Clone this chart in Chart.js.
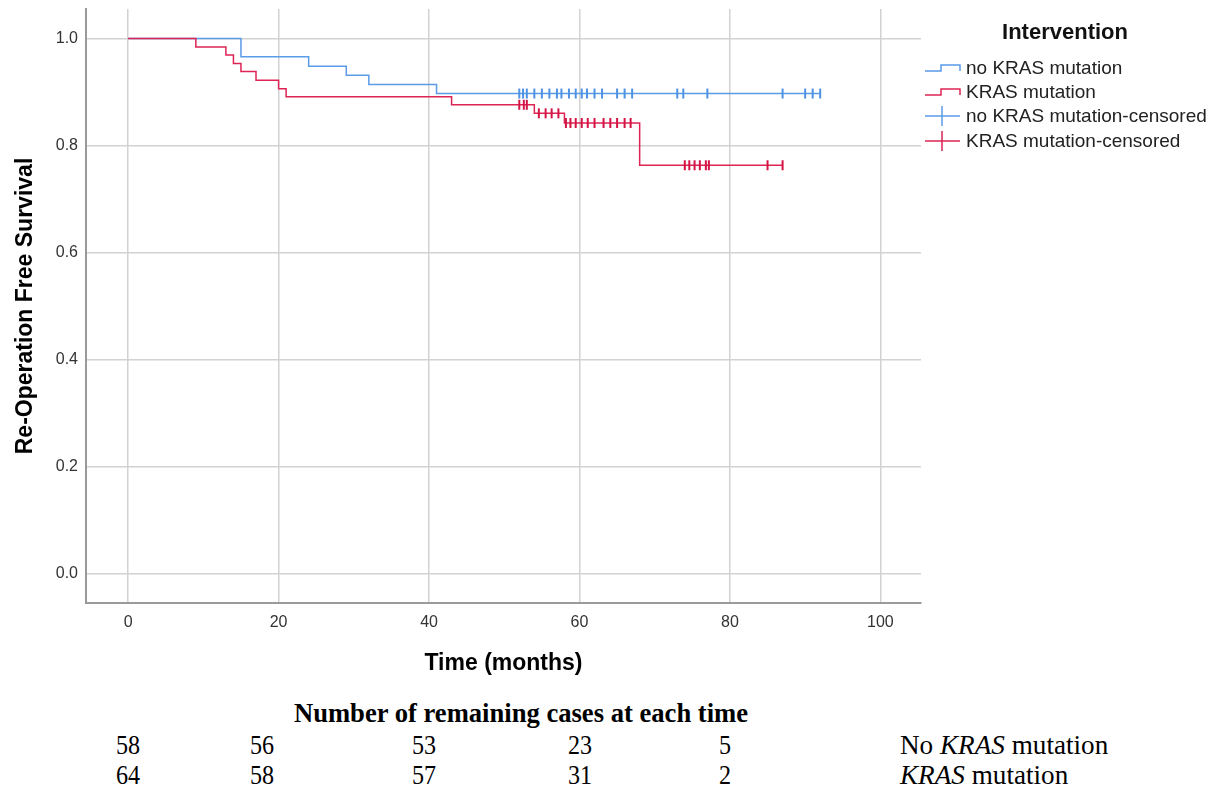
<!DOCTYPE html>
<html>
<head>
<meta charset="utf-8">
<script src="https://cdn.jsdelivr.net/npm/chart.js@4.4.1/dist/chart.umd.min.js"></script>
<style>
    body { margin: 0; background: #fff; }
    #page { position: relative; width: 1211px; height: 792px; overflow: hidden; font-family: "Liberation Sans", Arial, sans-serif; }
    #chart-box { position: absolute; left: 0; top: 0; width: 1211px; height: 690px; }
    .lg-title { position: absolute; left: 1065px; top: 32px; transform: translate(-50%, -50%); font-weight: bold; font-size: 22px; color: #111; white-space: nowrap; }
    .lg-item { position: absolute; left: 922px; height: 24px; display: flex; align-items: center; white-space: nowrap; font-size: 19px; color: #222; }
    .lg-item svg { width: 40px; height: 24px; margin-right: 4px; }
    .risk { position: absolute; font-family: "Liberation Serif", "Times New Roman", serif; font-size: 28px; color: #000; white-space: nowrap; line-height: 1; }
    .risk.c { transform: translate(-50%, -50%) scaleX(0.86); }
    .risk.t { transform: translate(-50%, -50%) scaleX(0.95); }
    .risk.l { transform-origin: 0 50%; transform: translateY(-50%) scaleX(0.97); }
</style>
</head>
<body>
<div id="page">
    <div id="chart-box"><canvas id="km-chart"></canvas></div>

    <div class="lg-title">Intervention</div>
    <div class="lg-item" style="top:56px">
        <svg viewBox="0 0 40 24"><polyline points="3,15 19,15 19,9 38,9 38,15" fill="none" stroke="#5b9be8" stroke-width="1.5"/></svg>no KRAS mutation</div>
    <div class="lg-item" style="top:80px">
        <svg viewBox="0 0 40 24"><polyline points="3,15 19,15 19,9 38,9 38,15" fill="none" stroke="#dd2454" stroke-width="1.5"/></svg>KRAS mutation</div>
    <div class="lg-item" style="top:104px">
        <svg viewBox="0 0 40 24"><line x1="3" y1="12" x2="38" y2="12" stroke="#5b9be8" stroke-width="1.5"/><line x1="20" y1="2" x2="20" y2="22" stroke="#5b9be8" stroke-width="1.5"/></svg>no KRAS mutation-censored</div>
    <div class="lg-item" style="top:129px">
        <svg viewBox="0 0 40 24"><line x1="3" y1="12" x2="38" y2="12" stroke="#dd2454" stroke-width="1.5"/><line x1="20" y1="2" x2="20" y2="22" stroke="#dd2454" stroke-width="1.5"/></svg>KRAS mutation-censored</div>

    <div id="risk-table"></div>
</div>

<script>
// Kaplan-Meier step points (time in months, survival)
const noKrasTime = [0, 15, 24, 29, 32, 41, 92];
const noKrasSurv = [1.0, 0.966, 0.948, 0.931, 0.914, 0.897, 0.897];
const krasTime = [0, 9, 13, 14, 15, 17, 20, 21, 43, 54, 58, 68, 87];
const krasSurv = [1.0, 0.984, 0.969, 0.953, 0.938, 0.922, 0.906, 0.891, 0.876, 0.860, 0.842, 0.763, 0.763];

// censored observations (months)
const noKrasCensored = [52, 52.5, 53, 54, 55, 56, 57, 57.6, 58.6, 59.5, 60.3, 61, 62, 63, 65, 66, 67, 73, 73.8, 77, 87, 90, 91, 92];
const krasCensored = [52, 52.6, 53, 54.6, 55.5, 56.3, 57.2, 58.2, 58.8, 59.5, 60.3, 61.1, 62, 63.2, 64.1, 65, 66, 66.8, 74, 74.6, 75.3, 76, 76.8, 77.2, 85, 87];

const xTicks = [0, 20, 40, 60, 80, 100];
const yTicks = [0, 0.2, 0.4, 0.6, 0.8, 1.0];

// number at risk table
const riskX = [128, 262, 424, 580, 725];
const riskNoKras = [58, 56, 53, 23, 5];
const riskKras = [64, 58, 57, 31, 2];

const BLUE = '#5b9be8';
const RED = '#dd2454';

// survival level at time t, read from the step arrays
function levelAt(times, surv, t) {
    let s = surv[0];
    for (let i = 0; i < times.length; i++) {
        if (times[i] <= t) s = surv[i];
    }
    return s;
}

function toPoints(times, values) {
    return times.map((t, i) => ({ x: t, y: values[i] }));
}

function censorPoints(cens, times, surv) {
    return cens.map(t => ({ x: t, y: levelAt(times, surv, t) }));
}

const fontFamily = '"Liberation Sans", Arial, sans-serif';

new Chart(document.getElementById('km-chart'), {
    type: 'line',
    data: {
        datasets: [
            {
                label: 'KRAS mutation-censored',
                data: censorPoints(krasCensored, krasTime, krasSurv),
                showLine: false,
                pointStyle: 'line',
                rotation: 90,
                pointRadius: 5,
                pointBorderWidth: 2,
                borderColor: '#d41444',
                backgroundColor: '#d41444'
            },
            {
                label: 'KRAS mutation',
                data: toPoints(krasTime, krasSurv),
                stepped: 'before',
                borderColor: RED,
                borderWidth: 1.5,
                pointRadius: 0,
                fill: false
            },
            {
                label: 'no KRAS mutation-censored',
                data: censorPoints(noKrasCensored, noKrasTime, noKrasSurv),
                showLine: false,
                pointStyle: 'line',
                rotation: 90,
                pointRadius: 5,
                pointBorderWidth: 2,
                borderColor: '#4f92e4',
                backgroundColor: '#4f92e4'
            },
            {
                label: 'no KRAS mutation',
                data: toPoints(noKrasTime, noKrasSurv),
                stepped: 'before',
                borderColor: BLUE,
                borderWidth: 1.5,
                pointRadius: 0,
                fill: false
            }
        ]
    },
    options: {
        responsive: true,
        maintainAspectRatio: false,
        animation: false,
        events: [],
        layout: {
            padding: { top: 9, right: 290, bottom: 0, left: 0 }
        },
        scales: {
            x: {
                type: 'linear',
                min: -5.6,
                max: 105.4,
                afterBuildTicks: (scale) => { scale.ticks = xTicks.map(v => ({ value: v })); },
                afterFit: (scale) => { scale.height = 87; },
                grid: { color: '#d2d2d2', lineWidth: 1.5, drawTicks: false },
                border: { color: '#9a9a9a', width: 2 },
                ticks: {
                    padding: 10,
                    color: '#333',
                    font: { family: fontFamily, size: 16 }
                },
                title: {
                    display: true,
                    text: 'Time (months)',
                    color: '#000',
                    font: { family: fontFamily, size: 23, weight: 'bold' },
                    padding: { top: 0, bottom: 13 }
                }
            },
            y: {
                type: 'linear',
                min: -0.055,
                max: 1.055,
                afterBuildTicks: (scale) => { scale.ticks = yTicks.map(v => ({ value: v })); },
                afterFit: (scale) => {
                    scale.width = 86;
                    scale.paddingTop = 0;
                    scale.paddingBottom = 0;
                },
                grid: { color: '#d2d2d2', lineWidth: 1.5, drawTicks: false },
                border: { color: '#9a9a9a', width: 2 },
                ticks: {
                    padding: 8,
                    color: '#333',
                    font: { family: fontFamily, size: 16 },
                    callback: (v) => v.toFixed(1)
                },
                title: {
                    display: true,
                    text: 'Re-Operation Free Survival',
                    color: '#000',
                    font: { family: fontFamily, size: 23, weight: 'bold' },
                    padding: { top: 12, bottom: 0 }
                }
            }
        },
        plugins: {
            legend: { display: false },
            tooltip: { enabled: false }
        }
    }
});

// Number at risk table below the chart
function addRisk(text, x, y, cls, html) {
    const el = document.createElement('div');
    el.className = 'risk ' + cls;
    el.style.left = x + 'px';
    el.style.top = y + 'px';
    if (html) el.innerHTML = text; else el.textContent = text;
    document.getElementById('risk-table').appendChild(el);
    return el;
}

addRisk('Number of remaining cases at each time', 521, 713, 't').style.fontWeight = 'bold';
riskNoKras.forEach((n, i) => addRisk(String(n), riskX[i], 745, 'c'));
riskKras.forEach((n, i) => addRisk(String(n), riskX[i], 775, 'c'));
addRisk('No <i>KRAS</i> mutation', 900, 745, 'l', true);
addRisk('<i>KRAS</i> mutation', 900, 775, 'l', true);
</script>
</body>
</html>
